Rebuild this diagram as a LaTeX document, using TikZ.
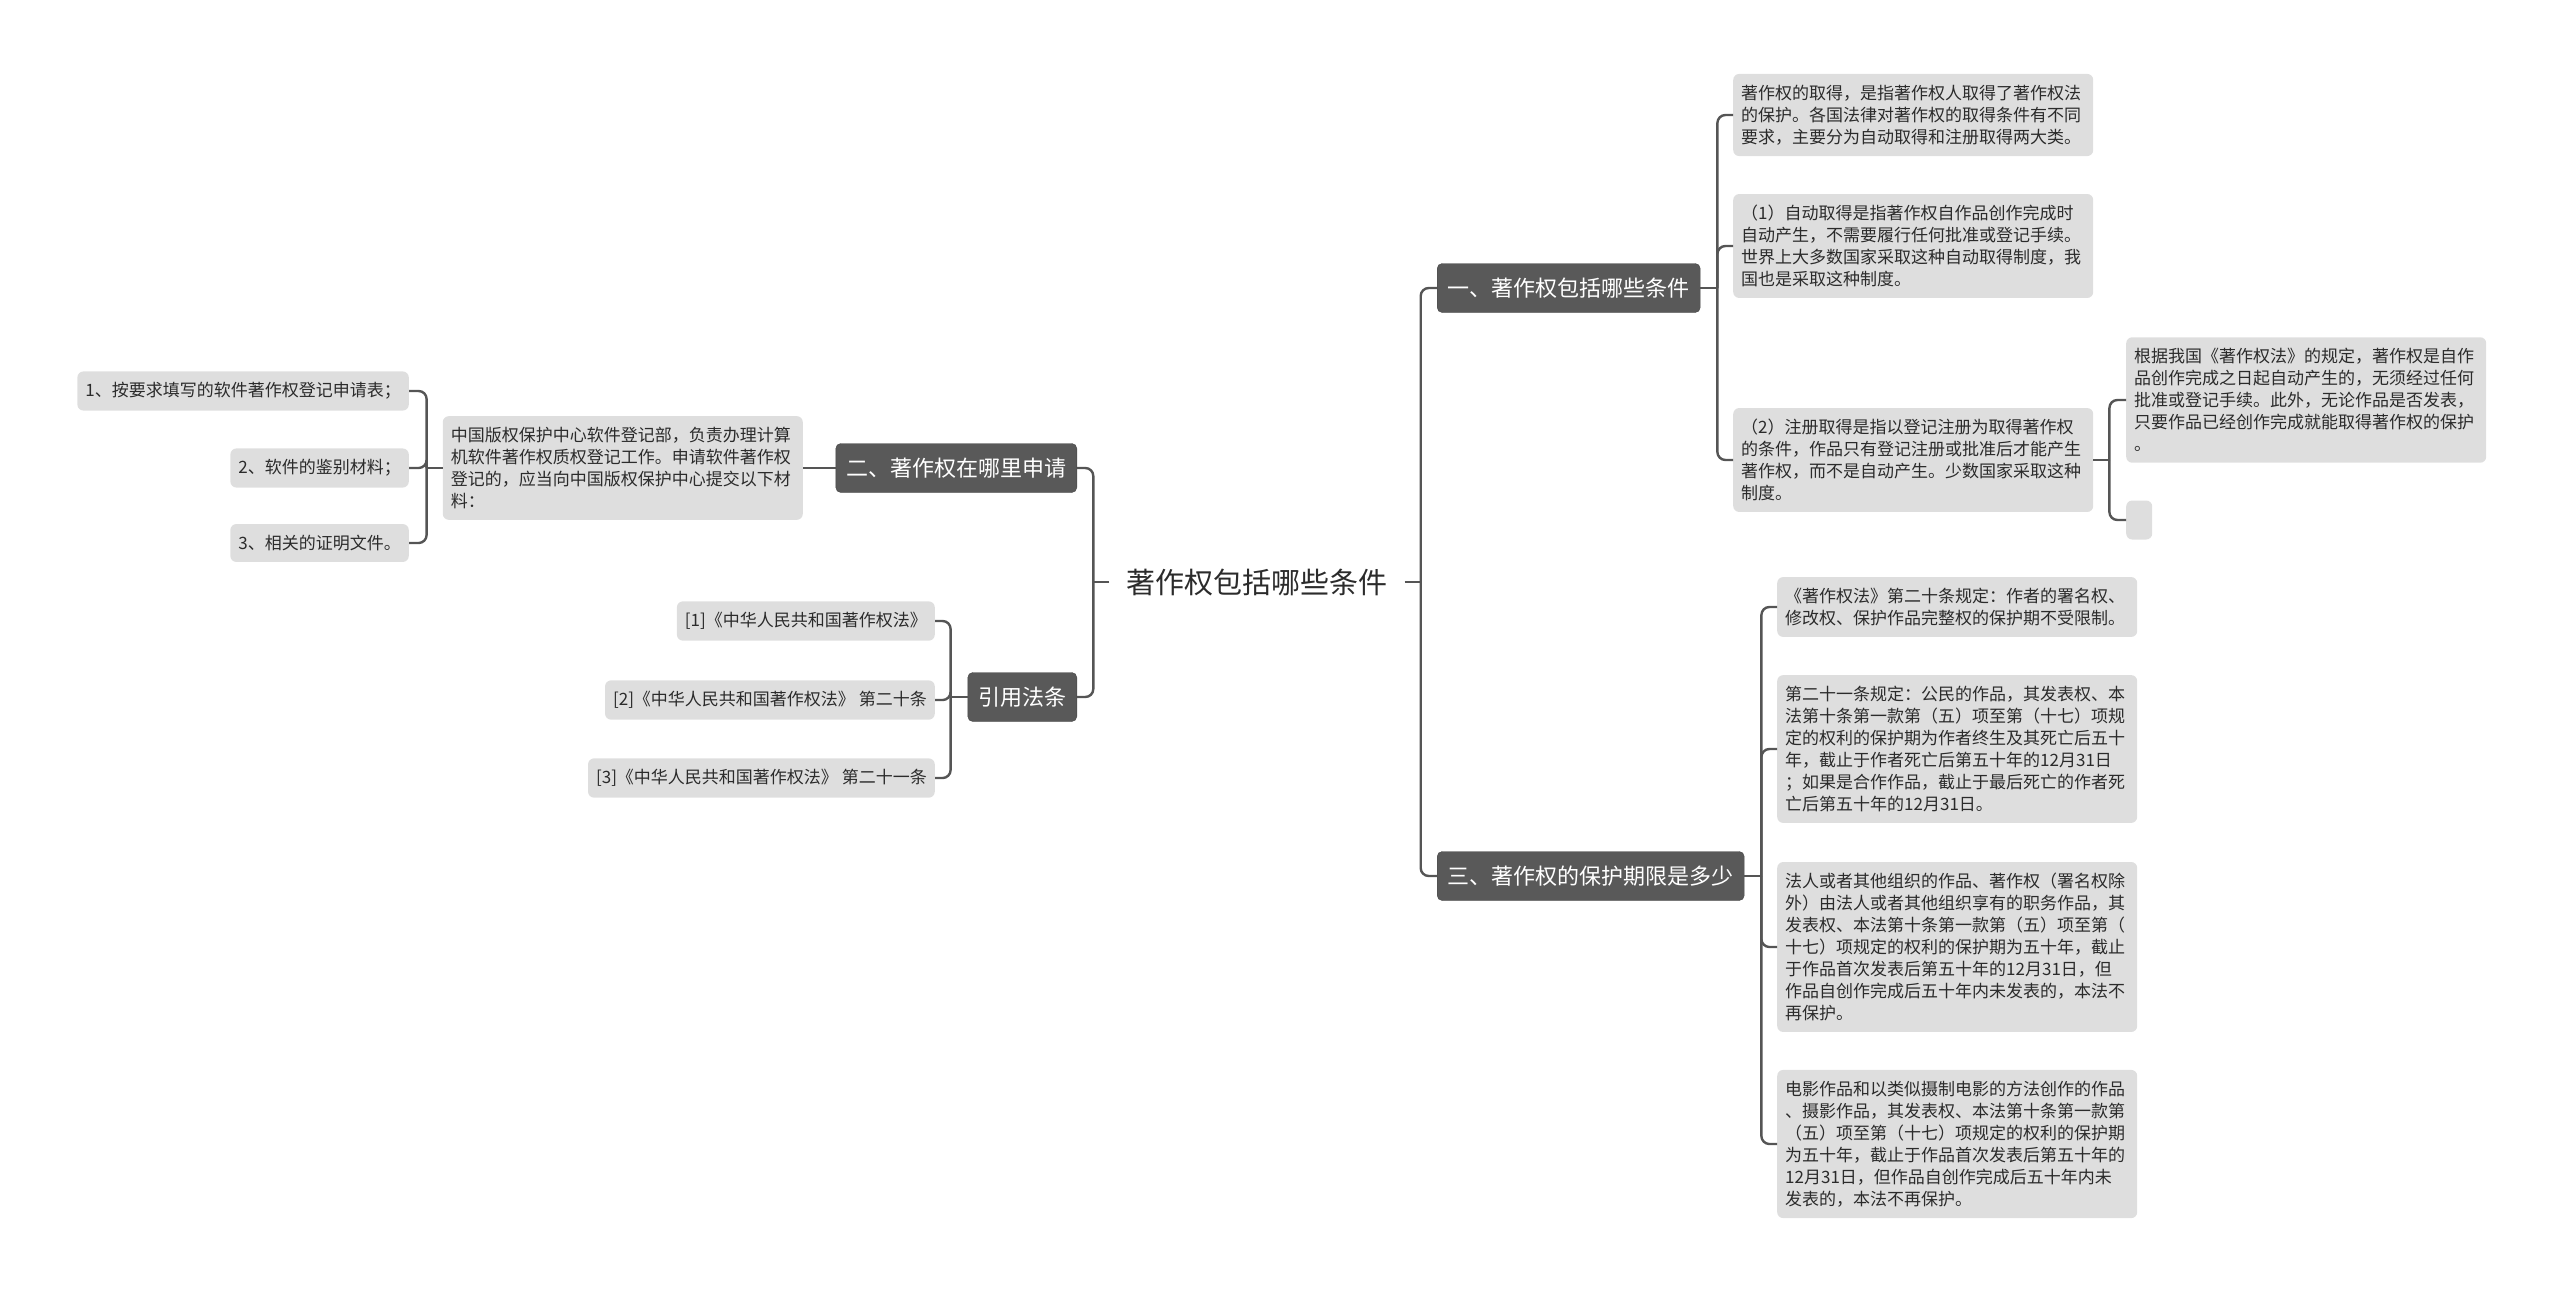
\documentclass[tikz,border=0pt]{standalone}
\usepackage{fontspec}
\usepackage{xcolor}
\usepackage{tikz}
\usetikzlibrary{positioning,calc}
\newfontfamily\cjk{Noto Sans CJK SC}
\definecolor{mapLine} {HTML}{555555}
\definecolor{mapTopic}{HTML}{595959}
\definecolor{mapEdge} {HTML}{474747}
\definecolor{mapNote} {HTML}{DEDEDE}
\definecolor{mapText} {HTML}{2B2B2B}

\begin{document}
\begin{tikzpicture}[x=1pt, y=-1pt,
      topic/.style={draw=mapEdge, fill=mapTopic, text=white, rounded corners=5pt,
                    minimum height=49pt, inner xsep=10.5pt, inner ysep=0pt,
                    font={\cjk\fontsize{22pt}{26pt}\selectfont}},
      note/.style={fill=mapNote, text=mapText, rounded corners=6pt,
                   inner xsep=8pt, inner ysep=11pt,
                   font={\cjk\fontsize{17pt}{22pt}\selectfont}},
      para/.style={note, text width=344pt, align=left},
      wire/.style={draw=mapLine, line width=2.4pt, rounded corners=8pt}]
    \useasboundingbox (0,0) rectangle (2560,1293);
    % centre
    \node[font={\cjk\fontsize{29pt}{34pt}\selectfont}, text=mapText,
          inner xsep=17pt, inner ysep=0pt] (root) at (1257,582) {著作权包括哪些条件};
    % right side
    \node[topic, anchor=west] (top1) at (1437,288) {一、著作权包括哪些条件};
    \node[topic, anchor=west] (top3) at (1437,876) {三、著作权的保护期限是多少};
    \node[para, anchor=west] (acq1) at (1733,115)
      {著作权的取得，是指著作权人取得了著作权法\\的保护。各国法律对著作权的取得条件有不同\\要求，主要分为自动取得和注册取得两大类。};
    \node[para, anchor=west] (acq2) at (1733,246)
      {（1）自动取得是指著作权自作品创作完成时\\自动产生，不需要履行任何批准或登记手续。\\世界上大多数国家采取这种自动取得制度，我\\国也是采取这种制度。};
    \node[para, anchor=west] (acq3) at (1733,460)
      {（2）注册取得是指以登记注册为取得著作权\\的条件，作品只有登记注册或批准后才能产生\\著作权，而不是自动产生。少数国家采取这种\\制度。};
    \node[para, anchor=west] (law1) at (2126,400)
      {根据我国《著作权法》的规定，著作权是自作\\品创作完成之日起自动产生的，无须经过任何\\批准或登记手续。此外，无论作品是否发表，\\只要作品已经创作完成就能取得著作权的保护\\。};
    \node[note, anchor=west, minimum width=26pt, minimum height=39pt,
          inner sep=0pt] (law2) at (2126,520) {};
    \node[para, anchor=west] (term1) at (1777,607)
      {《著作权法》第二十条规定：作者的署名权、\\修改权、保护作品完整权的保护期不受限制。};
    \node[para, anchor=west] (term2) at (1777,749)
      {第二十一条规定：公民的作品，其发表权、本\\法第十条第一款第（五）项至第（十七）项规\\定的权利的保护期为作者终生及其死亡后五十\\年，截止于作者死亡后第五十年的12月31日\\；如果是合作作品，截止于最后死亡的作者死\\亡后第五十年的12月31日。};
    \node[para, anchor=west] (term3) at (1777,947)
      {法人或者其他组织的作品、著作权（署名权除\\外）由法人或者其他组织享有的职务作品，其\\发表权、本法第十条第一款第（五）项至第（\\十七）项规定的权利的保护期为五十年，截止\\于作品首次发表后第五十年的12月31日，但\\作品自创作完成后五十年内未发表的，本法不\\再保护。};
    \node[para, anchor=west] (term4) at (1777,1144)
      {电影作品和以类似摄制电影的方法创作的作品\\、摄影作品，其发表权、本法第十条第一款第\\（五）项至第（十七）项规定的权利的保护期\\为五十年，截止于作品首次发表后第五十年的\\12月31日，但作品自创作完成后五十年内未\\发表的，本法不再保护。};
    % left side
    \node[topic, anchor=east] (top2) at (1077,468) {二、著作权在哪里申请};
    \node[topic, anchor=east] (cite) at (1077,697) {引用法条};
    \node[para, anchor=east] (office) at (803,468)
      {中国版权保护中心软件登记部，负责办理计算\\机软件著作权质权登记工作。申请软件著作权\\登记的，应当向中国版权保护中心提交以下材\\料：};
    \node[note, anchor=east] (mat1) at (409,391) {1、按要求填写的软件著作权登记申请表；};
    \node[note, anchor=east] (mat2) at (409,468) {2、软件的鉴别材料；};
    \node[note, anchor=east] (mat3) at (409,543) {3、相关的证明文件。};
    \node[note, anchor=east] (ref1) at (935,621) {[1]《中华人民共和国著作权法》};
    \node[note, anchor=east] (ref2) at (935,700) {[2]《中华人民共和国著作权法》 第二十条};
    \node[note, anchor=east] (ref3) at (935,778) {[3]《中华人民共和国著作权法》 第二十一条};
    % junctions
    \coordinate (jr)  at ($(root.east)+(16,0)$);
    \coordinate (jl)  at ($(root.west)+(-16,0)$);
    \coordinate (j1)  at ($(top1.east)+(17,0)$);
    \coordinate (j3)  at ($(top3.east)+(17,0)$);
    \coordinate (ja)  at ($(acq3.east)+(16,0)$);
    \coordinate (jo)  at ($(office.west)+(-16,0)$);
    \coordinate (jc)  at ($(cite.west)+(-17,0)$);
    % connectors
    \draw[wire] (root.east) -- (jr);
    \draw[wire] (jr) |- (top1.west);
    \draw[wire] (jr) |- (top3.west);
    \draw[wire] (top1.east) -- (j1);
    \foreach \n in {acq1,acq2,acq3} \draw[wire] (j1) |- (\n.west);
    \draw[wire] (acq3.east) -- (ja);
    \foreach \n in {law1,law2} \draw[wire] (ja) |- (\n.west);
    \draw[wire] (top3.east) -- (j3);
    \foreach \n in {term1,term2,term3,term4} \draw[wire] (j3) |- (\n.west);
    \draw[wire] (root.west) -- (jl);
    \draw[wire] (jl) |- (top2.east);
    \draw[wire] (jl) |- (cite.east);
    \draw[wire] (top2.west) -- (office.east);
    \draw[wire] (office.west) -- (jo);
    \foreach \n in {mat1,mat2,mat3} \draw[wire] (jo) |- (\n.east);
    \draw[wire] (cite.west) -- (jc);
    \foreach \n in {ref1,ref2,ref3} \draw[wire] (jc) |- (\n.east);
  \end{tikzpicture}
\end{document}
